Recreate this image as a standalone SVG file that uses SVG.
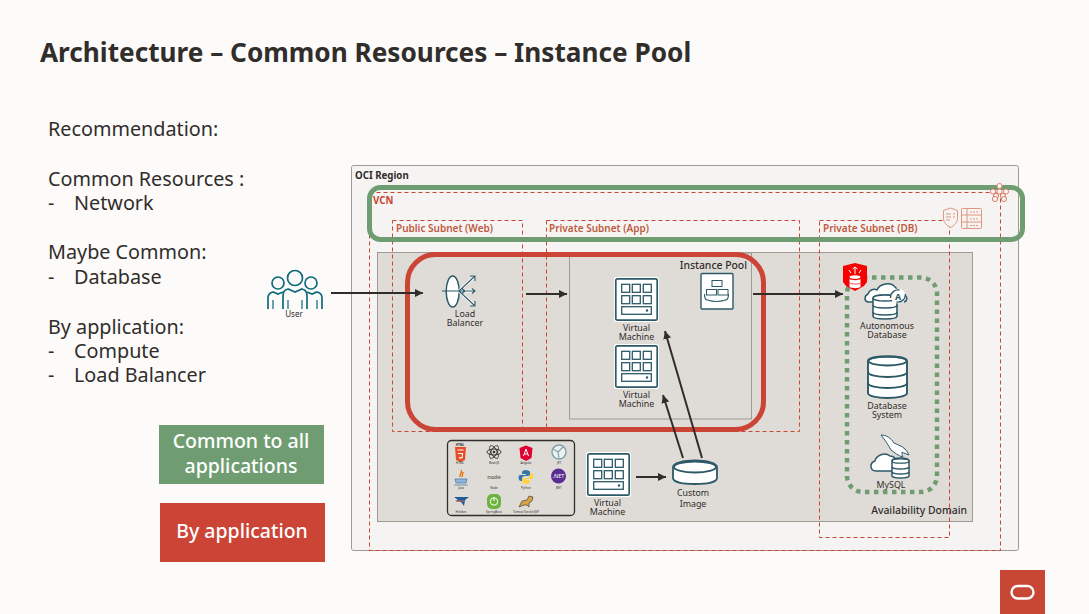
<svg xmlns="http://www.w3.org/2000/svg" width="1089" height="614" viewBox="0 0 1089 614">
<style>
text{font-family:"Noto Sans","Open Sans","Liberation Sans",sans-serif;fill:#312d2a}
.body{font-size:19.8px}
.lbl{font-size:8.9px;text-anchor:middle}
.cont{font-size:9.700px;font-weight:700}
.cont2{font-size:10.400px;font-weight:500}
.sub{font-size:10px;font-weight:600;fill:#c0593f}
.leg{font-size:19.500px;font-weight:500;fill:#fff;text-anchor:middle}
.dash{fill:none;stroke:#c74634;stroke-width:1;stroke-dasharray:4 3}
.wire{stroke:#312d2a;stroke-width:2;fill:none;marker-end:url(#arr)}
.tiny{font-size:3px;text-anchor:middle}
.salmon{fill:none;stroke:#e0957f;stroke-width:1}
</style>
<defs>
<marker id="arr" markerUnits="userSpaceOnUse" markerWidth="9" markerHeight="8" refX="8" refY="4" orient="auto"><path d="M0 0L8 4L0 8z" fill="#312d2a"/></marker>
<g id="vm">
<rect x="-1" y="-1" width="45" height="45" rx="2" fill="#fff"/>
<rect x="0.8" y="0.8" width="41.4" height="41.4" rx="1.500" fill="#fff" stroke="#2d5967" stroke-width="1.700"/>
<g fill="none" stroke="#2d5967" stroke-width="1.300">
<rect x="6.700" y="6.300" width="8" height="8"/><rect x="17.300" y="6.300" width="8" height="8"/><rect x="28.300" y="6.300" width="8" height="8"/>
<rect x="6.700" y="17.700" width="8" height="8"/><rect x="17.300" y="17.700" width="8" height="8"/><rect x="28.300" y="17.700" width="8" height="8"/>
<rect x="6.700" y="28.700" width="29.600" height="7.600"/></g>
<circle cx="32" cy="32.500" r="1.200" fill="#2d5967"/>
</g>
</defs>

<rect width="1089" height="614" fill="#fcfbfa"/>

<g id="title"><text x="40" y="62" style="font-size:26.200px;font-weight:700">Architecture – Common Resources – Instance Pool</text></g>

<g id="notes">
<text class="body" x="48" y="136">Recommendation:</text>
<text class="body" x="48" y="186">Common Resources :</text>
<text class="body" x="48" y="210">-</text><text class="body" x="74" y="210">Network</text>
<text class="body" x="48" y="259">Maybe Common:</text>
<text class="body" x="48" y="284">-</text><text class="body" x="74" y="284">Database</text>
<text class="body" x="48" y="334">By application:</text>
<text class="body" x="48" y="358">-</text><text class="body" x="74" y="358">Compute</text>
<text class="body" x="48" y="382">-</text><text class="body" x="74" y="382">Load Balancer</text>
</g>

<g id="legend-common"><rect x="159" y="425" width="165" height="59" fill="#6f9d71"/>
<text class="leg" x="241" y="448">Common to all</text>
<text class="leg" x="241" y="473">applications</text></g>
<g id="legend-app"><rect x="160" y="503" width="165" height="59" fill="#cb4436"/>
<text class="leg" x="242" y="538">By application</text></g>

<g id="oci-region"><rect x="351.500" y="165.500" width="667" height="385" rx="2" fill="#f5f4f2" stroke="#a09a92"/>
<text class="cont" x="355" y="179">OCI Region</text></g>

<g id="availability-domain"><rect x="377.500" y="252.500" width="595" height="269" fill="#dfdcd8" stroke="#a09a92"/>
<text class="cont2" x="967" y="514" text-anchor="end">Availability Domain</text></g>

<g id="instance-pool-box"><rect x="569.500" y="253" width="182" height="166" fill="#dfdcd8" stroke="#a09a92"/>
<text class="cont2" x="747" y="269" text-anchor="end">Instance Pool</text></g>

<g id="vcn"><rect class="dash" x="369.500" y="192.500" width="631" height="358"/>
<text class="cont" x="373" y="204" style="fill:#c74634">VCN</text></g>
<g id="public-subnet"><rect class="dash" x="392.500" y="220.500" width="130" height="211"/>
<text class="sub" x="396" y="232">Public Subnet (Web)</text></g>
<g id="private-subnet-app"><rect class="dash" x="546.500" y="220.500" width="253" height="211"/>
<text class="sub" x="549" y="232">Private Subnet (App)</text></g>
<g id="private-subnet-db"><rect class="dash" x="819.500" y="220.500" width="130" height="317"/>
<text class="sub" x="823" y="232">Private Subnet (DB)</text></g>

<g id="highlight-common"><rect x="369.500" y="187.500" width="653" height="52" rx="11" fill="none" stroke="#6f9d71" stroke-width="5"/></g>
<g id="highlight-app"><rect x="407.500" y="254.500" width="356" height="175" rx="28" fill="none" stroke="#cb4436" stroke-width="5"/></g>
<g id="highlight-db"><rect x="847" y="277.500" width="90" height="214.500" rx="16" fill="none" stroke="#6f9d71" stroke-width="4.500" stroke-dasharray="4.500 4.500"/></g>

<g id="connectors">
<line class="wire" x1="331" y1="293" x2="423" y2="293"/>
<line class="wire" x1="526" y1="294" x2="567" y2="294"/>
<line class="wire" x1="753" y1="294" x2="843" y2="294"/>
<line class="wire" x1="702" y1="458" x2="665" y2="331"/>
<line class="wire" x1="683" y1="458" x2="663" y2="395"/>
<line class="wire" x1="636" y1="477" x2="666" y2="477"/>
</g>

<g id="user" fill="#fcfbfa" stroke="#0f6a7a" stroke-width="1.700">
<path d="M268 309V298q0-5 5-6l5 2 5-2M307 292l5 2 5-2q5 1 5 6v11" fill="none"/>
<circle cx="278" cy="283" r="6"/><circle cx="311" cy="283" r="6"/>
<path d="M283 309V296q0-6 5-7l7 3 7-3q5 1 5 7v13" fill="#fcfbfa" stroke="none"/>
<path d="M283 309V296q0-6 5-7l7 3 7-3q5 1 5 7v13" fill="none"/>
<circle cx="295" cy="278" r="7.500"/>
<path d="M273 309v-9M288 309v-9M302 309v-9M317 309v-9" fill="none" stroke-width="1.200"/>
<text x="294" y="317" class="lbl" stroke="none" style="font-size:8px">User</text>
</g>

<g id="load-balancer">
<ellipse cx="452.700" cy="291.500" rx="6.500" ry="15.500" fill="#fff" stroke="#2d5967" stroke-width="1.500"/>
<path d="M459 291L475 276M459 291H475M459 291L475 306" stroke="#fff" stroke-width="3" fill="none"/>
<path fill="none" stroke="#2d5967" stroke-width="1.100" d="M442 291H466M459 291L475 276M459 291H475M459 291L475 306M470 276h5v5M472 288.500l3 2.500-3 2.500M470 306h5v-5M462 288.500l3 2.500-3 2.500"/>
<text class="lbl" x="465" y="317">Load</text><text class="lbl" x="465" y="326">Balancer</text>
</g>

<g id="vm-1"><use href="#vm" x="615" y="278"/><text class="lbl" x="636.500" y="331">Virtual</text><text class="lbl" x="636.500" y="340">Machine</text></g>
<g id="vm-2"><use href="#vm" x="615" y="345"/><text class="lbl" x="636.500" y="398">Virtual</text><text class="lbl" x="636.500" y="407">Machine</text></g>
<g id="instance-pool">
<rect x="701" y="273.500" width="32" height="35.500" rx="1" fill="#fff" stroke="#2d5967" stroke-width="1.400"/>
<g fill="#fff" stroke="#2d5967" stroke-width="1">
<rect x="712" y="280.500" width="10" height="6"/><rect x="706.500" y="289.500" width="10" height="5.500"/><rect x="718" y="289.500" width="10" height="5.500"/></g>
<path d="M704.500 294c0 4 1 6 3 6 6 2 12 2 18 0 2 0 3-2 3-6" fill="none" stroke="#2d5967" stroke-width="1.100"/>
</g>

<g id="apps-panel">
<rect x="447.500" y="440.500" width="127" height="75" rx="4" fill="#dfdcd8" stroke="#312d2a" stroke-width="1.300"/>
<path d="M455 447h11l-1 13-4.500 2-4.500-2z" fill="#e44d26"/><path d="M457.500 450h6M458 453.500h5M462.500 453.500l-.4 4-1.600.6-1.600-.6" fill="none" stroke="#fff" stroke-width="1.100"/>
<text class="tiny" x="460" y="445.500" style="font-weight:700">HTML</text><text class="tiny" x="460" y="463.500">HTML</text>
<g fill="none" stroke="#312d2a" stroke-width=".9"><ellipse cx="494" cy="452" rx="7" ry="3"/><ellipse cx="494" cy="452" rx="7" ry="3" transform="rotate(60 494 452)"/><ellipse cx="494" cy="452" rx="7" ry="3" transform="rotate(120 494 452)"/></g><circle cx="494" cy="452" r="1.300" fill="#312d2a"/>
<text class="tiny" x="494" y="463.500">ReactJS</text>
<path d="M526 445.500l6.500 2.500-1 10-5.500 3-5.500-3-1-10z" fill="#dd0031"/><path d="M523.500 456l2.500-7 2.500 7M524.500 454h3" fill="none" stroke="#fff" stroke-width="1"/>
<text class="tiny" x="526" y="463.500">Angular</text>
<circle cx="559" cy="452" r="7" fill="#eef1ef" stroke="#7ba3a8" stroke-width="1.400"/><path d="M553 449l5 3 1 6M558 452l5-5" fill="none" stroke="#7ba3a8" stroke-width="1.200"/>
<text class="tiny" x="559" y="463.500">JET</text>
<path d="M461 470c2 3-2 4-1 7M463 472c0 2-1 3-1 5" fill="none" stroke="#e76f00" stroke-width="1.300"/><path d="M455 479h12l-1 4h-10zM454 485h14" fill="#8fb2de" stroke="#5382a1" stroke-width=".8"/>
<text class="tiny" x="461" y="488.500">Java</text>
<text x="494" y="479" text-anchor="middle" style="font-size:5.500px;font-weight:600;fill:#5d6b56">node</text>
<text class="tiny" x="494" y="488.500">Node</text>
<path d="M526 470c-3 0-4 1-4 3v1h4v1h-6c-2 0-2 6 1 6h1v-2c0-2 1-3 3-3h3c1 0 2-1 2-2v-2c0-1-2-2-4-2z" fill="#3776ab"/><path d="M526 484c3 0 4-1 4-3v-1h-4v-1h6c2 0 2-6-1-6h-1v2c0 2-1 3-3 3h-3c-1 0-2 1-2 2v2c0 1 2 2 4 2z" fill="#ffd343"/>
<text class="tiny" x="526" y="488.500">Python</text>
<circle cx="558.500" cy="476" r="7.500" fill="#5c2d91"/><text x="558.500" y="478" text-anchor="middle" style="font-size:5.500px;fill:#fff">.NET</text>
<text class="tiny" x="558.500" y="488.500">.NET</text>
<path d="M454 497h15l-4 3-1 6-3-4-6-1 3-1z" fill="#1f5c99"/><path d="M456 501h8" stroke="#e05a47" stroke-width="1"/>
<text class="tiny" x="461" y="512.500">Helidon</text>
<rect x="487" y="494" width="14" height="15" rx="5" fill="#6db33f"/><circle cx="494" cy="501.500" r="3.700" fill="none" stroke="#fff" stroke-width="1"/><path d="M494 497.500v3.500" stroke="#fff"/>
<text class="tiny" x="494" y="512.500">SpringBoot</text>
<path d="M519 507l3-6 5-1 2-4 4 1-1 4-3 2v4l-2-2-3 0z" fill="#d9a441" stroke="#312d2a" stroke-width=".6"/>
<text class="tiny" x="526" y="512.500">Tomcat Servlet/JSP</text>
</g>

<g id="vm-3"><use href="#vm" x="587" y="453"/><text class="lbl" x="607.500" y="506">Virtual</text><text class="lbl" x="607.500" y="515">Machine</text></g>
<g id="custom-image">
<path d="M673 467c0-4 10-6.500 22-6.500s22 2.500 22 6.500v11c0 4-10 6-22 6s-22-2-22-6z" fill="#fff" stroke="#2d5967" stroke-width="1.800"/>
<ellipse cx="695" cy="467" rx="21" ry="5.500" fill="none" stroke="#2d5967" stroke-width="1.800"/>
<text class="lbl" x="693" y="496">Custom</text><text class="lbl" x="693" y="507">Image</text>
</g>

<g id="autonomous-database">
<path d="M873 302h-5c-4-1-4-6 0-8 1-4 6-6 9-4 3-7 14-8 18-3l2 2 8 6c3 3 2 6-1 7" fill="#fff" stroke="#2d5967" stroke-width="1.500"/>
<path d="M873 298c0-2 5-3 12-3s12 1 12 3v18c0 2-5 3-12 3s-12-1-12-3z" fill="#fff" stroke="#2d5967" stroke-width="1.600"/>
<ellipse cx="885" cy="298" rx="12" ry="3" fill="#fff" stroke="#2d5967" stroke-width="1.500"/><path d="M873 305c0 2 5 3 12 3s12-1 12-3M873 312c0 2 5 3 12 3s12-1 12-3" fill="none" stroke="#2d5967" stroke-width="1.500"/>
<circle cx="898" cy="296" r="7.500" fill="#fff"/><path d="M890.500 298c0-6 5-9 9-8M905.500 294c0 6-5 9-9 8" fill="none" stroke="#2d5967" stroke-width="1.300"/>
<text x="898" y="299.500" text-anchor="middle" style="font-size:9px;font-weight:700;fill:#2d5967">A</text>
<text class="lbl" x="887" y="329">Autonomous</text><text class="lbl" x="887" y="338">Database</text>
</g>
<g id="db-badge"><path d="M843 266l12-3 12 3v16l-3 4-9 5-9-5-3-4z" fill="#f80000"/><ellipse cx="855" cy="277" rx="5.500" ry="1.800" fill="#fff"/><path d="M849.500 279v8c2 1.500 9 1.500 11 0v-8c-2 1.500-9 1.500-11 0z" fill="#fff"/><path d="M849.500 283c2 1.500 9 1.500 11 0" stroke="#f80000" stroke-width=".7" fill="none"/><path d="M855 267v7M852.500 269l2.500-2 2.500 2M849 270l2 3M861 270l-2 3" stroke="#fff" fill="none"/></g>

<g id="database-system">
<path d="M868 361c0-3 9-4.500 19.500-4.500S907 358 907 361v32c0 3-9 5-19.500 5S868 396 868 393z" fill="#fff" stroke="#2d5967" stroke-width="1.900"/>
<ellipse cx="887.500" cy="361" rx="19" ry="4.500" fill="none" stroke="#2d5967" stroke-width="1.900"/>
<path d="M868 372c0 3 9 5 19.500 5s19.500-2 19.500-5M868 383c0 3 9 5 19.500 5s19.500-2 19.500-5" fill="none" stroke="#2d5967" stroke-width="1.900"/>
<text class="lbl" x="887" y="409">Database</text><text class="lbl" x="887" y="418">System</text>
</g>

<g id="mysql">
<path d="M892 471h-16c-6 0-7-8-1-10 1-6 10-9 15-5 2 0 4 1 5 2" fill="#fff" stroke="#2d5967" stroke-width="1.500"/>
<path d="M881 435c5 0 10 3 13 8 4 2 8 3 11 6 2 2 3 4 4 6-3-1-5-2-7-3 0 2 0 4 1 5-5-1-9-5-12-7-2-4-6-10-10-15z" fill="#fff" stroke="#2d5967" stroke-width="1"/>
<path d="M892 461c0-2 4-3 8.500-3s8.500 1 8.500 3v15c0 1-4 2-8.500 2s-8.500-1-8.500-2z" fill="#fff" stroke="#2d5967" stroke-width="1.500"/>
<ellipse cx="900.500" cy="461" rx="8.500" ry="2.200" fill="none" stroke="#2d5967" stroke-width="1.300"/><path d="M892 467c0 1 4 2 8.500 2s8.500-1 8.500-2M892 472c0 1 4 2 8.500 2s8.500-1 8.500-2" fill="none" stroke="#2d5967" stroke-width="1.300"/>
<text class="lbl" x="891" y="488">MySQL</text>
</g>

<g id="vcn-icon" fill="#f5f4f2" stroke="#d9745a" stroke-width=".9">
<circle cx="999.500" cy="186" r="2.600"/><circle cx="993" cy="191.500" r="2.600"/><circle cx="999.500" cy="191.500" r="2.600"/><circle cx="1006" cy="191.500" r="2.600"/><circle cx="996" cy="196" r="2.600"/><circle cx="1003" cy="196" r="2.600"/><circle cx="995" cy="199" r="2.600"/><circle cx="1004" cy="199" r="2.600"/>
</g>
<g id="security-list"><path d="M950.500 208l7 2.500v8c0 4-3.500 7-7 9-3.500-2-7-5-7-9v-8z" fill="#f5f4f2" stroke="#e0957f"/><path class="salmon" d="M946 214h5M946 217h5M946 220h4M953 214h2M953 217h2"/></g>
<g id="route-table"><rect x="961.500" y="208.500" width="20" height="20" rx="1" fill="#f5f4f2" stroke="#e0957f"/><path class="salmon" d="M961.500 215h20M961.500 222h20M967 208.500v20"/><path d="M970 212h8M970 219h8M970 225.500h8" stroke="#e0957f" stroke-width="1.200" stroke-dasharray="2 1" fill="none"/></g>

<g id="oracle-logo"><rect x="1000" y="570" width="45" height="44" fill="#c74634"/><rect x="1011.500" y="586" width="22" height="12.500" rx="6.200" fill="none" stroke="#fff" stroke-width="2.400"/></g>
</svg>
